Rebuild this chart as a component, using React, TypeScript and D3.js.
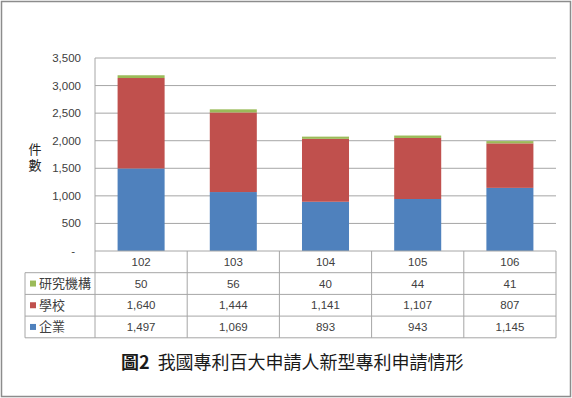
import React from 'react';
import * as d3 from 'd3';

// 民國年度
const YEARS = ['102', '103', '104', '105', '106'];
// series values (件數)
const ENTERPRISE = [1497, 1069, 893, 943, 1145];
const SCHOOL = [1640, 1444, 1141, 1107, 807];
const RESEARCH = [50, 56, 40, 44, 41];

const SERIES_NAMES = ['企業', '學校', '研究機構'];
const SERIES_COLORS = ['#4F81BD', '#C0504D', '#9BBB59'];
const Y_TICKS = [0, 500, 1000, 1500, 2000, 2500, 3000, 3500];
const Y_TITLE = '件數';
const TITLE_BOLD = '圖2';
const TITLE = '我國專利百大申請人新型專利申請情形';

const W = 572;
const H = 398;
const LATIN = '"Liberation Sans", Arial, sans-serif';
const CJK = '"Noto Sans CJK TC", "Noto Sans", sans-serif';

export default function App() {
  const plot = { left: 95, right: 556, top: 58, bottom: 251 };
  const rowH = 21.7;
  const tableLeft = 25;

  const x = d3.scaleBand<string>()
    .domain(YEARS)
    .range([plot.left, plot.right])
    .paddingInner(0.49)
    .paddingOuter(0.245);
  const xCell = d3.scaleBand<string>().domain(YEARS).range([plot.left, plot.right]);
  const y = d3.scaleLinear().domain([0, 3500]).range([plot.bottom, plot.top]);

  const rows = YEARS.map((yr, i) => ({
    year: yr,
    企業: ENTERPRISE[i],
    學校: SCHOOL[i],
    研究機構: RESEARCH[i],
  }));
  const stacked = d3.stack<any>().keys(SERIES_NAMES)(rows);

  // table rows, top to bottom
  const tableRows = [
    { name: '研究機構', color: SERIES_COLORS[2], values: RESEARCH },
    { name: '學校', color: SERIES_COLORS[1], values: SCHOOL },
    { name: '企業', color: SERIES_COLORS[0], values: ENTERPRISE },
  ];
  const fmt = d3.format(',');
  const lineColor = '#A6A6A6';
  const tableBottom = plot.bottom + rowH * 4;

  return (
    <div style={{ position: 'fixed', left: 0, top: 0 }}>
      <svg width={W} height={H} style={{ display: 'block', background: '#fff' }}>
        <rect x={1.5} y={1.5} width={W - 3} height={H - 3} fill="#fff" stroke="#8C8C8C" strokeWidth={1.5} />

        {/* gridlines */}
        {Y_TICKS.filter(t => t > 0).map(t => (
          <line key={t} x1={plot.left} x2={plot.right} y1={y(t)} y2={y(t)} stroke={lineColor} strokeWidth={1} />
        ))}

        {/* y tick labels */}
        {Y_TICKS.map(t => (
          <text key={t} x={t === 0 ? 75 : 81} y={y(t) + 4} textAnchor="end" fontFamily={LATIN} fontSize={11.5} fill="#404040">
            {t === 0 ? '-' : fmt(t)}
          </text>
        ))}

        {/* y axis title, written vertically */}
        <text x={35} y={143} fontFamily={CJK} fontSize={13} fill="#262626"
          style={{ writingMode: 'vertical-rl', textOrientation: 'upright', letterSpacing: '3px' }}>
          {Y_TITLE}
        </text>

        {/* bars */}
        {stacked.map((s, si) => (
          <g key={s.key} fill={SERIES_COLORS[si]}>
            {s.map((d, i) => (
              <rect key={i} x={x(YEARS[i])} width={x.bandwidth()} y={y(d[1])} height={y(d[0]) - y(d[1])} />
            ))}
          </g>
        ))}

        {/* data table */}
        <g stroke={lineColor} strokeWidth={1} fill="none">
          <line x1={plot.left} x2={plot.left} y1={plot.top} y2={tableBottom} />
          <line x1={plot.left} x2={plot.right} y1={plot.bottom} y2={plot.bottom} />
          {[1, 2, 3, 4].map(r => (
            <line key={r} x1={tableLeft} x2={plot.right} y1={plot.bottom + rowH * r} y2={plot.bottom + rowH * r} />
          ))}
          <line x1={tableLeft} x2={tableLeft} y1={plot.bottom + rowH} y2={tableBottom} />
          {YEARS.map(yr => (
            <line key={yr} x1={(xCell(yr) as number) + xCell.bandwidth()} x2={(xCell(yr) as number) + xCell.bandwidth()} y1={plot.bottom} y2={tableBottom} />
          ))}
        </g>

        {YEARS.map(yr => (
          <text key={yr} x={(xCell(yr) as number) + xCell.bandwidth() / 2} y={plot.bottom + rowH / 2 + 4} textAnchor="middle" fontFamily={LATIN} fontSize={11.5} fill="#404040">
            {yr}
          </text>
        ))}

        {tableRows.map((row, r) => {
          const cy = plot.bottom + rowH * (r + 1) + rowH / 2;
          return (
            <g key={row.name}>
              <rect x={30} y={cy - 3} width={6} height={6} fill={row.color} />
              <text x={39} y={cy + 4.5} fontFamily={CJK} fontSize={13} fill="#404040">{row.name}</text>
              {row.values.map((v, i) => (
                <text key={i} x={(xCell(YEARS[i]) as number) + xCell.bandwidth() / 2} y={cy + 4} textAnchor="middle" fontFamily={LATIN} fontSize={11.5} fill="#404040">
                  {fmt(v)}
                </text>
              ))}
            </g>
          );
        })}

        {/* caption */}
        <text x={121} y={369} fontFamily={CJK} fontSize={18} fill="#1a1a1a">
          <tspan fontWeight="bold">{TITLE_BOLD}</tspan>
          <tspan dx={8}>{TITLE}</tspan>
        </text>
      </svg>
    </div>
  );
}
